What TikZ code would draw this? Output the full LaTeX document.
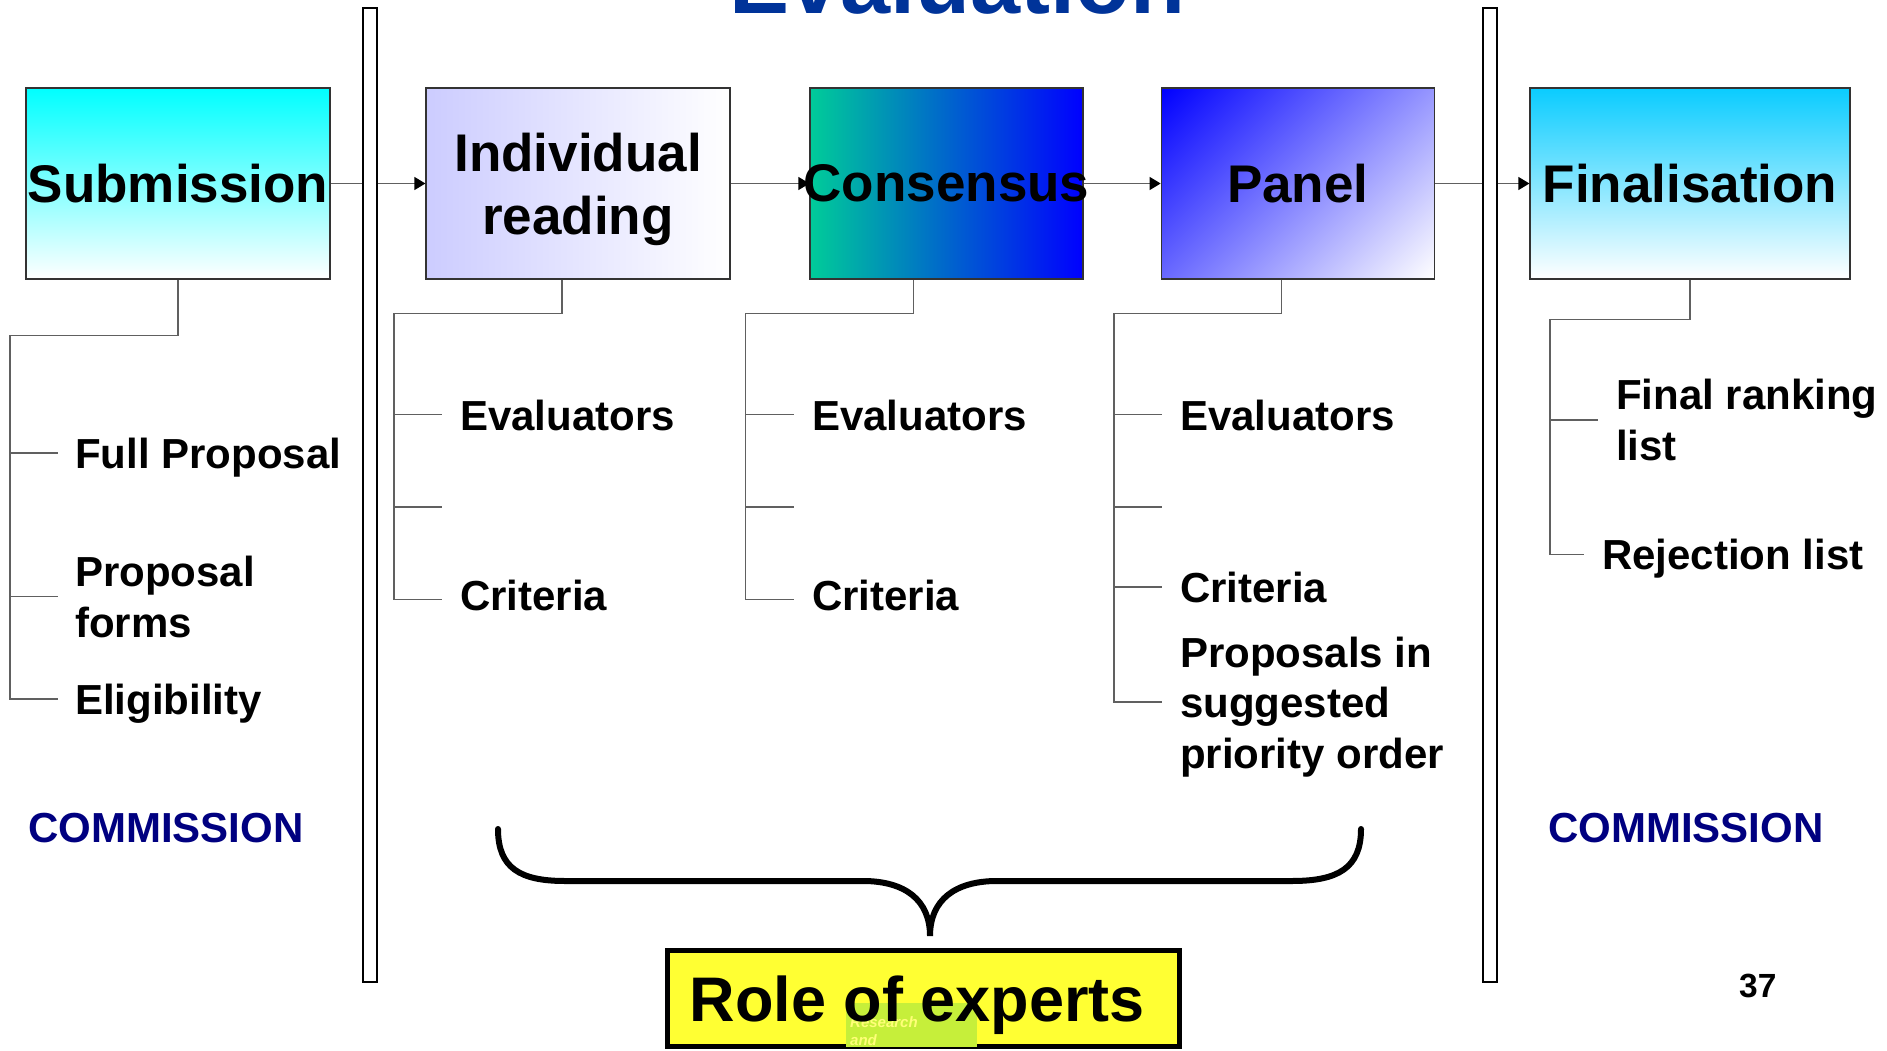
\documentclass[tikz,border=0pt]{standalone}
\usepackage{fontspec}
\setmainfont{Liberation Sans}
\usepackage{tikz}
\usetikzlibrary{arrows.meta}

\definecolor{subcyan}{RGB}{0,255,255}
\definecolor{indivlilac}{RGB}{204,204,255}
\definecolor{consgreen}{RGB}{0,204,153}
\definecolor{skyblue}{RGB}{10,204,255}
\definecolor{commblue}{RGB}{0,0,128}
\definecolor{titleblue}{RGB}{0,51,153}
\definecolor{roleyellow}{RGB}{255,255,51}
\definecolor{stampgreen}{RGB}{198,239,58}
\definecolor{stamptext}{RGB}{255,255,120}
\definecolor{linegray}{RGB}{96,96,96}

\pgfdeclareverticalshading{panelfade}{100bp}{color(0bp)=(white); color(14.6bp)=(white);
  color(85.4bp)=(blue); color(100bp)=(blue)}

\begin{document}
\begin{tikzpicture}[x=1pt,y=-1pt]
        \tikzstyle{stagebox}=[draw=black!80,line width=1.2pt,minimum height=191pt,
        inner sep=0pt,align=center,font=\fontsize{53}{63}\selectfont\bfseries]
        \tikzstyle{leaf}=[anchor=base west,inner sep=0pt,align=left,
        font=\fontsize{42}{50.5}\selectfont\bfseries]
        \tikzstyle{commission}=[leaf,text=commblue]
        \tikzstyle{treeline}=[draw=linegray,line width=1.3pt]
        \tikzstyle{flowarrow}=[draw=linegray,line width=1.2pt,
        -{Triangle[length=11pt,width=13pt,color=black]}]
        \tikzstyle{divider}=[draw=black,line width=2pt,fill=white]

        \useasboundingbox (0,0) rectangle (1887,1051);
        \clip (0,0) rectangle (1887,1051);

        %% Title, cut by the top edge
        \node[anchor=base,inner sep=0pt,text=titleblue,
            font=\fontsize{90}{100}\selectfont\bfseries] (title) at (957.5,13.4) {Evaluation};

        %% Stages
        \node[stagebox,minimum width=304pt,top color=subcyan,bottom color=white]
            (sub) at (178,183.5) {Submission};
        \node[stagebox,minimum width=304pt,left color=indivlilac,right color=white]
            (indiv) at (578,183.5) {\rule{0pt}{51pt}Individual\\reading};
        \node[stagebox,minimum width=273pt,left color=consgreen,right color=blue]
            (cons) at (946.5,183.5) {\makebox[0pt]{Consensus}};
        \node[stagebox,minimum width=273pt,shading=panelfade,shading angle=45]
            (panel) at (1297.75,183.5) {Panel};
        \node[stagebox,minimum width=320pt,top color=skyblue,bottom color=white]
            (final) at (1690,183.5) {Finalisation};

        % Flow
        \draw[flowarrow] (sub) -- (indiv);
        \draw[flowarrow] (indiv) -- (cons);
        \draw[flowarrow] (cons) -- (panel);
        \draw[flowarrow] (panel) -- (final);

        % Dividers (in front of the arrows)
        \draw[divider] (363,8.4) rectangle (377,982);
        \draw[divider] (1483,8.4) rectangle (1497,982);

        %% Submission tree
        \coordinate (subknee) at (10,335.5);
        \coordinate (subend) at (58,699);
        \draw[treeline] (sub.south) |- (subknee) |- (subend);
        \foreach \y in {453,596.5}
            \draw[treeline] (10,\y) -- (58,\y);
        \node[leaf] (fullprop) at (75,468.7) {Full Proposal};
        \node[leaf] (propforms) at (75,637.4) {Proposal\\forms};
        \node[leaf] (elig) at (75,714.6) {Eligibility};
        \node[commission] (commleft) at (28,842) {COMMISSION};

        %% Individual reading tree
        \coordinate (indivknee) at (394,313.7);
        \coordinate (indivend) at (442,599.5);
        \draw[treeline] ([xshift=-16pt]indiv.south) |- (indivknee) |- (indivend);
        \foreach \y in {414.5,507}
            \draw[treeline] (394,\y) -- (442,\y);
        \node[leaf] (indiveval) at (460,430) {Evaluators};
        \node[leaf] (indivcrit) at (460,610) {Criteria};

        %% Consensus tree
        \coordinate (consknee) at (745.7,313.7);
        \coordinate (consend) at (794,599.5);
        \draw[treeline] ([xshift=-33pt]cons.south) |- (consknee) |- (consend);
        \foreach \y in {414.5,507}
            \draw[treeline] (745.7,\y) -- (794,\y);
        \node[leaf] (conseval) at (812,430) {Evaluators};
        \node[leaf] (conscrit) at (812,610) {Criteria};

        %% Panel tree
        \coordinate (panelknee) at (1114,313.7);
        \coordinate (panelend) at (1161.5,702);
        \draw[treeline] ([xshift=-16pt]panel.south) |- (panelknee) |- (panelend);
        \foreach \y in {414.5,507,587}
            \draw[treeline] (1114,\y) -- (1161.5,\y);
        \node[leaf] (paneleval) at (1180,430) {Evaluators};
        \node[leaf] (panelcrit) at (1180,602.8) {Criteria};
        \node[leaf] (panelorder) at (1180,768) {Proposals in\\suggested\\priority order};

        %% Finalisation tree
        \coordinate (finalknee) at (1550,319.7);
        \coordinate (finalend) at (1584,554.5);
        \draw[treeline] (final.south) |- (finalknee) |- (finalend);
        \draw[treeline] (1550,420) -- (1598,420);
        \node[leaf] (ranking) at (1616,460) {Final ranking\\list};
        \node[leaf] (reject) at (1602,569.6) {Rejection list};
        \node[commission] (commright) at (1548,842) {COMMISSION};

        %% Brace over the expert stages
        \coordinate (braceleft) at (498,829);
        \coordinate (braceright) at (1361,829);
        \coordinate (bracetip) at (930,936);
        \draw[line width=6pt,line cap=round] (braceleft)
            .. controls (498,868) and (520,881) .. (565,881) -- (863,881)
            .. controls (905,881) and (930,900) .. (bracetip)
            .. controls (930,900) and (955,881) .. (997,881) -- (1292,881)
            .. controls (1338,881) and (1361,868) .. (braceright);

        %% Role of experts
        \node[draw=black,line width=5pt,fill=roleyellow,inner sep=0pt,
            minimum width=512pt,minimum height=96pt] (rolebox) at (923.5,998.5) {};
        \node[fill=stampgreen,anchor=north west,inner sep=0pt,
            minimum width=131pt,minimum height=44pt] (stamp) at (846,1003) {};
        \node[anchor=base west,inner sep=0pt,align=left,text=stamptext,
            font=\fontsize{15}{18}\selectfont\bfseries\itshape] (stamplabel) at (850,1045.7) {Research\\and};
        \node[anchor=base,inner sep=0pt,font=\fontsize{63}{70}\selectfont\bfseries]
            (role) at (917.5,1021) {Role of experts};

        \node[anchor=base west,inner sep=0pt,font=\fontsize{33.5}{40}\selectfont\bfseries]
            (pagenum) at (1739,997) {37};
\end{tikzpicture}
\end{document}
